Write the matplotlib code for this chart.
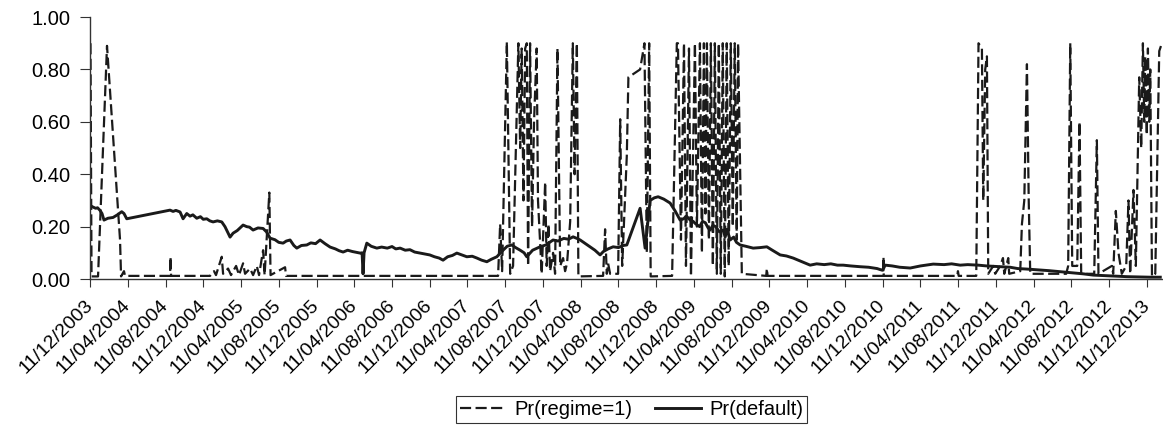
import numpy as np
import matplotlib.pyplot as plt

plt.rcParams['font.family'] = ['Liberation Sans', 'DejaVu Sans']

# x in months since 11/12/2003 (category axis, one label every 4 months)
tick_labels = ["11/12/2003",
               "11/04/2004", "11/08/2004", "11/12/2004",
               "11/04/2005", "11/08/2005", "11/12/2005",
               "11/04/2006", "11/08/2006", "11/12/2006",
               "11/04/2007", "11/08/2007", "11/12/2007",
               "11/04/2008", "11/08/2008", "11/12/2008",
               "11/04/2009", "11/08/2009", "11/12/2009",
               "11/04/2010", "11/08/2010", "11/12/2010",
               "11/04/2011", "11/08/2011", "11/12/2011",
               "11/04/2012", "11/08/2012", "11/12/2012",
               "11/12/2013"]

# Pr(default), (month, value)
default_pts = [
    (0.05, .28), (0.3, .275), (0.6, .27), (0.8, .272), (1.06, .262), (1.27, .25),
    (1.48, .225), (1.9, .232), (2.44, .235), (2.9, .245), (3.36, .257), (3.6, .25),
    (3.89, .23), (8.48, .263), (8.8, .258), (9.1, .262), (9.54, .256), (9.86, .23),
    (10.25, .25), (10.6, .24), (10.9, .245), (11.31, .232), (11.7, .238), (12.0, .228),
    (12.37, .23), (12.7, .222), (13.04, .218), (13.5, .222), (13.96, .218), (14.3, .2),
    (14.84, .16), (15.16, .175), (15.6, .185), (16.22, .206), (16.6, .2), (16.9, .198),
    (17.28, .187), (17.8, .195), (18.34, .193), (18.7, .18), (19.08, .156), (19.6, .15),
    (20.0, .14), (20.46, .137), (20.8, .145), (21.2, .149), (21.6, .128), (21.91, .118),
    (22.4, .128), (22.97, .13), (23.4, .138), (23.9, .135), (24.38, .149), (24.9, .135),
    (25.44, .122), (26.0, .115), (26.4, .108), (26.82, .103), (27.3, .11), (27.8, .105),
    (28.2, .102), (28.62, .099), (28.83, .10), (28.93, .02), (29.04, .10), (29.33, .137),
    (29.8, .125), (30.39, .118), (30.9, .122), (31.5, .118), (32.0, .124), (32.4, .115),
    (32.86, .118), (33.4, .11), (33.9, .112), (34.4, .103), (34.98, .099), (35.5, .095),
    (36.0, .092), (36.5, .085), (37.0, .08), (37.41, .072), (37.9, .085), (38.4, .09),
    (38.87, .099), (39.4, .092), (39.93, .085), (40.5, .087), (41.0, .08), (41.5, .072),
    (42.05, .066), (42.5, .075), (43.11, .085), (43.77, .11), (44.2, .125), (44.70, .13),
    (45.1, .12), (45.58, .11), (46.0, .10), (46.28, .085), (46.9, .11), (47.69, .123),
    (48.3, .13), (49.07, .149), (49.6, .145), (50.2, .155), (50.7, .152), (51.19, .161),
    (51.6, .155), (51.94, .149), (52.5, .135), (52.99, .123), (53.5, .11), (54.05, .092),
    (54.4, .105), (54.9, .115), (55.43, .123), (56.0, .12), (56.5, .128), (56.88, .13),
    (58.29, .27), (58.82, .118), (59.35, .30), (59.8, .31), (60.20, .314), (60.8, .305),
    (61.47, .29), (62.0, .26), (62.53, .225), (62.9, .23), (63.2, .24), (63.6, .225),
    (63.91, .22), (64.2, .21), (64.6, .20), (64.9, .22), (65.2, .215), (65.5, .195),
    (65.71, .187), (66.0, .205), (66.3, .20), (66.7, .18), (67.09, .187), (67.3, .16),
    (67.5, .19), (67.83, .149), (68.2, .16), (68.5, .14), (68.89, .13), (69.5, .125),
    (70.27, .118), (71.0, .12), (71.72, .123), (72.3, .11), (73.13, .092), (73.8, .088),
    (74.51, .08), (75.3, .068), (76.31, .053), (77.0, .058), (77.8, .055), (78.5, .058),
    (79.2, .053), (79.81, .053), (80.6, .05), (81.61, .047), (82.5, .045), (83.4, .04),
    (83.91, .034), (84.0, .034), (84.26, .053), (85.0, .05), (85.8, .045), (86.91, .042),
    (88.0, .05), (89.35, .057), (90.5, .055), (91.3, .058), (92.21, .053), (93.0, .055),
    (94.12, .053), (95.0, .05), (96.45, .047), (97.5, .045), (98.3, .04), (99.28, .038),
    (100.5, .035), (101.6, .032), (102.81, .028), (104.0, .024), (105.2, .02), (106.31, .015),
    (107.5, .013), (108.7, .011), (109.88, .009), (111.0, .008), (112.3, .007), (113.41, .007),
]

# Pr(regime=1), (month, value)
regime_pts = [
    (0.05, .90), (0.16, .01), (0.85, .01), (1.80, .89), (3.18, .15), (3.29, .01),
    (3.6, .03), (3.71, .012), (8.48, .012), (8.53, .085), (8.59, .012), (12.72, .012),
    (13.14, .03), (13.35, .015), (13.96, .085), (14.1, .02), (14.63, .04), (14.94, .015),
    (15.48, .05), (15.79, .015), (16.22, .06), (16.43, .02), (16.96, .04), (17.28, .015),
    (17.67, .05), (17.91, .015), (18.34, .11), (18.5, .015), (19.0, .33), (19.13, .015),
    (20.67, .045), (20.77, .012), (43.24, .012), (43.46, .21), (43.67, .03), (44.17, .905),
    (44.52, .02), (44.83, .05), (45.39, .90), (45.58, .5), (45.74, .88), (45.93, .3),
    (46.11, .88), (46.28, .90), (46.42, .05), (46.63, .90), (46.84, .2), (47.05, .6),
    (47.33, .88), (47.47, .3), (47.86, .02), (48.23, .37), (48.39, .05), (48.58, .21),
    (48.75, .03), (49.07, .10), (49.28, .02), (49.53, .88), (49.82, .05), (50.13, .08),
    (50.34, .03), (50.55, .06), (50.88, .22), (51.16, .90), (51.35, .4), (51.59, .90),
    (51.75, .01), (54.37, .012), (54.58, .19), (54.76, .02), (54.9, .06), (55.11, .02),
    (55.96, .02), (56.18, .61), (56.39, .05), (56.88, .47), (57.05, .77), (58.29, .80),
    (58.75, .90), (59.0, .10), (59.25, .90), (59.41, .01), (61.68, .012), (62.18, .90),
    (62.30, .90), (62.62, .15), (62.94, .90), (63.15, .05), (63.47, .88), (63.68, .01),
    (64.10, .90), (64.31, .20), (64.63, .90), (64.84, .10), (65.05, .90), (65.21, .25),
    (65.37, .90), (65.58, .15), (65.79, .90), (66.0, .05), (66.21, .90), (66.42, .02),
    (66.63, .90), (66.84, .02), (67.05, .90), (67.26, .01), (67.47, .90), (67.68, .05),
    (67.90, .90), (68.11, .20), (68.32, .90), (68.53, .15), (68.67, .90), (69.07, .02),
    (71.65, .012), (71.72, .04), (71.8, .012), (84.05, .012), (84.08, .085), (84.11, .012),
    (91.9, .012), (91.97, .03), (92.05, .012), (93.91, .012), (94.15, .90), (94.51, .88),
    (94.65, .3), (94.86, .80), (95.04, .85), (95.18, .02), (95.71, .05), (95.92, .02),
    (96.45, .05), (96.74, .08), (96.88, .02), (97.30, .08), (97.40, .02), (98.57, .03),
    (98.75, .21), (99.0, .3), (99.28, .82), (99.47, .3), (99.63, .02), (103.44, .02),
    (103.65, .05), (103.87, .90), (104.08, .05), (104.61, .05), (104.85, .60), (105.03, .02),
    (106.41, .02), (106.69, .53), (106.86, .02), (108.28, .05), (108.42, .02), (108.70, .26),
    (108.98, .10), (109.33, .02), (109.80, .05), (110.04, .30), (110.22, .02), (110.57, .34),
    (110.82, .05), (111.18, .77), (111.39, .5), (111.57, .90), (111.71, .6), (111.82, .85),
    (111.98, .55), (112.10, .88), (112.24, .6), (112.35, .80), (112.53, .01), (112.88, .02),
    (113.30, .87), (113.58, .90),
]

default_x, default_y = zip(*default_pts)
regime_x, regime_y = zip(*regime_pts)

fig = plt.figure(figsize=(11.63, 4.26), dpi=100)
fig.subplots_adjust(left=0.0774, right=0.9992, bottom=0.345, top=0.960)
ax = fig.add_subplot(111)

ax.plot(regime_x, regime_y, color="#1a1a1a", lw=1.6, linestyle=(0, (5, 2)),
        label="Pr(regime=1)")
ax.plot(default_x, default_y, color="#1a1a1a", lw=2.1, label="Pr(default)")

ax.set_xlim(0, 113.6)
ax.set_ylim(0, 1.0)
yt = np.arange(0, 1.01, 0.2)
ax.set_yticks(yt)
ax.set_yticklabels(["%.2f" % v for v in yt], fontsize=14.5)
ax.set_xticks(np.arange(0, 4 * len(tick_labels), 4))
ax.set_xticklabels(tick_labels, fontsize=14, rotation=45, ha="right",
                   va="center", rotation_mode="anchor")

for s in ["top", "right"]:
    ax.spines[s].set_visible(False)
for s in ["left", "bottom"]:
    ax.spines[s].set_color("#333333")
    ax.spines[s].set_linewidth(1.0)
ax.tick_params(axis="y", direction="out", length=7, color="#333333", pad=7)
ax.tick_params(axis="x", direction="out", length=6, color="#333333", pad=11)

leg = fig.legend(loc="lower center", bbox_to_anchor=(0.543, 0.0), ncol=2,
                 fontsize=14.5, frameon=True, fancybox=False, handlelength=2.3,
                 columnspacing=1.1, handletextpad=0.4, borderpad=0.2,
                 borderaxespad=0.15)
leg.get_frame().set_edgecolor("black")
leg.get_frame().set_linewidth(0.8)

plt.savefig("out.png", dpi=100)
plt.close()
